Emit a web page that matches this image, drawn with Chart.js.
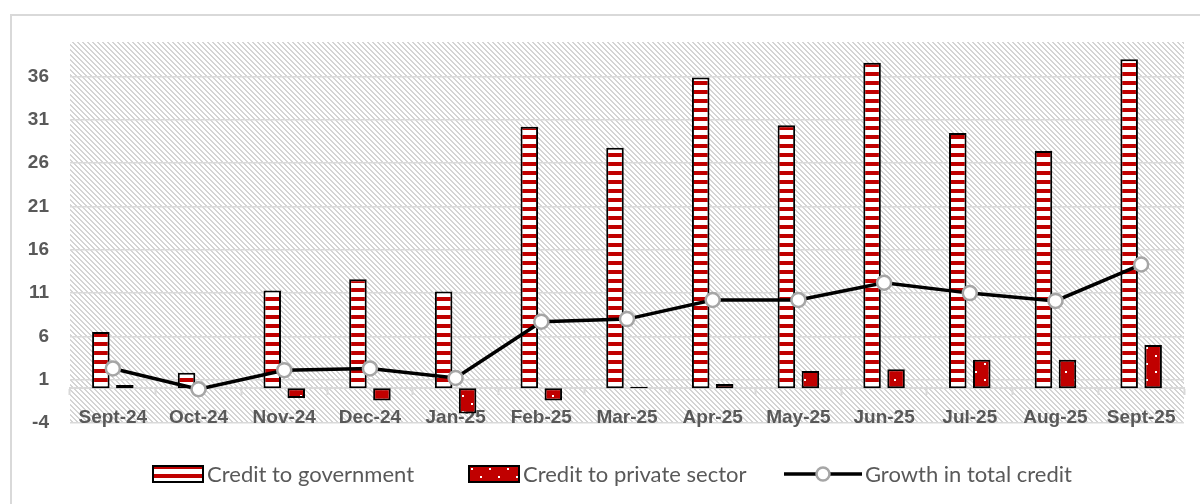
<!DOCTYPE html>
<html>
<head>
<meta charset="utf-8">
<script src="https://cdn.jsdelivr.net/npm/chart.js@4.4.1/dist/chart.umd.min.js"></script>
<style>
  html, body { margin: 0; padding: 0; background: #fff; overflow: hidden; }
  .frame { position: absolute; left: 10px; top: 14px; width: 1300px; height: 600px; border: 2px solid #d9d9d9; }
  #creditChart { position: absolute; left: 0; top: 0; }
</style>
</head>
<body>
<div class="frame"></div>
<canvas id="creditChart" width="1200" height="504"></canvas>
<script>
const MONTHS = ['Sept-24', 'Oct-24', 'Nov-24', 'Dec-24', 'Jan-25', 'Feb-25', 'Mar-25',
  'Apr-25', 'May-25', 'Jun-25', 'Jul-25', 'Aug-25', 'Sept-25'];
const GOV_CREDIT = [6.5, 1.8, 11.3, 12.6, 11.2, 30.2, 27.8, 35.9, 30.4, 37.6, 29.5, 27.4, 38.0];
const PRIVATE_CREDIT = [0.4, 0, -1.1, -1.4, -2.9, -1.4, 0.2, 0.5, 2.0, 2.2, 3.3, 3.3, 5.0];
const TOTAL_GROWTH = [2.3, -0.1, 2.1, 2.3, 1.2, 7.7, 8.0, 10.2, 10.2, 12.2, 11.0, 10.1, 14.3];
const Y_TICKS = [-4, 1, 6, 11, 16, 21, 26, 31, 36];
const SERIES_NAMES = ['Credit to government', 'Credit to private sector', 'Growth in total credit'];

const RED = '#C00000';
const GRID = '#d9d9d9';
const TEXT = '#595959';
const AXIS_FONT = { family: '"Liberation Sans", Arial, sans-serif', size: 19, weight: 'bold' };
const LEGEND_FONT = '22px Lato, "Open Sans", sans-serif';
const LEGEND_CENTER = 612;
const LEGEND_Y = 474;
const LEGEND_GAP = 28;

const canvas = document.getElementById('creditChart');
const ctx = canvas.getContext('2d');

/* ---- Fill patterns ---- */
function makeTile(w, h, paint) {
  const c = document.createElement('canvas');
  c.width = w;
  c.height = h;
  paint(c.getContext('2d'), w, h);
  return c;
}

// light downward diagonal hatch behind the plot
const hatchTile = makeTile(5, 5, (g) => {
  g.fillStyle = '#fff';
  g.fillRect(0, 0, 5, 5);
  g.fillStyle = '#d4d4d4';
  for (let y = 0; y < 5; y++) {
    for (let x = 0; x < 5; x++) {
      if ((x - y + 10) % 5 < 2) g.fillRect(x, y, 1, 1);
    }
  }
});

// red / white horizontal stripes
const stripeTile = makeTile(9, 9, (g) => {
  g.fillStyle = '#fff';
  g.fillRect(0, 0, 9, 9);
  g.fillStyle = RED;
  g.fillRect(0, 0, 9, 4);
});

// solid red with sparse white dots
const dotTile = makeTile(18, 16, (g) => {
  g.fillStyle = RED;
  g.fillRect(0, 0, 18, 16);
  g.fillStyle = '#fff';
  g.fillRect(3, 3, 2, 2);
  g.fillRect(12, 11, 2, 2);
});

const hatch = ctx.createPattern(hatchTile, 'repeat');
const stripes = ctx.createPattern(stripeTile, 'repeat');
const dots = ctx.createPattern(dotTile, 'repeat');

/* ---- Legend icons ---- */
function barIcon(tile) {
  return makeTile(52, 18, (g) => {
    g.fillStyle = g.createPattern(tile, 'repeat');
    g.fillRect(1, 1, 50, 16);
    g.strokeStyle = '#000';
    g.lineWidth = 2;
    g.strokeRect(1, 1, 50, 16);
  });
}

const lineIcon = makeTile(78, 18, (g) => {
  g.strokeStyle = '#000';
  g.lineWidth = 3.5;
  g.beginPath();
  g.moveTo(0, 9);
  g.lineTo(78, 9);
  g.stroke();
  g.beginPath();
  g.arc(39, 9, 6.5, 0, Math.PI * 2);
  g.fillStyle = '#fff';
  g.fill();
  g.strokeStyle = '#a6a6a6';
  g.lineWidth = 2.5;
  g.stroke();
});

const LEGEND_ICONS = [barIcon(stripeTile), barIcon(dotTile), lineIcon];

/* ---- Plot area background ---- */
const plotBackground = {
  id: 'plotBackground',
  beforeDraw(chart) {
    const { ctx: c, chartArea: a } = chart;
    c.save();
    c.fillStyle = hatch;
    c.fillRect(a.left, a.top, a.right - a.left, a.bottom - a.top);
    c.restore();
  },
};

/* ---- Legend: one row, equal-width slots ---- */
const slotLegend = {
  id: 'slotLegend',
  afterDraw(chart) {
    const c = chart.ctx;
    c.save();
    c.font = LEGEND_FONT;
    c.fillStyle = TEXT;
    c.textBaseline = 'middle';
    const items = SERIES_NAMES.map((text, i) => {
      const icon = LEGEND_ICONS[i];
      return { text, icon, width: icon.width + 3 + c.measureText(text).width };
    });
    const slot = Math.max(...items.map((it) => it.width)) + LEGEND_GAP;
    const total = slot * (items.length - 1) + items[items.length - 1].width;
    let x = LEGEND_CENTER - total / 2;
    items.forEach((it) => {
      c.drawImage(it.icon, Math.round(x), Math.round(LEGEND_Y - it.icon.height / 2));
      c.fillText(it.text, x + it.icon.width + 3, LEGEND_Y + 1);
      x += slot;
    });
    c.restore();
  },
};

new Chart(ctx, {
  type: 'bar',
  data: {
    labels: MONTHS,
    datasets: [
      {
        type: 'line',
        label: SERIES_NAMES[2],
        data: TOTAL_GROWTH,
        order: 0,
        borderColor: '#000',
        borderWidth: 3.5,
        tension: 0,
        pointRadius: 7,
        pointBorderWidth: 2.5,
        pointBorderColor: '#a6a6a6',
        pointBackgroundColor: '#fff',
      },
      {
        label: SERIES_NAMES[0],
        data: GOV_CREDIT,
        order: 1,
        backgroundColor: stripes,
        borderColor: '#000',
        borderWidth: 2,
        borderSkipped: false,
        categoryPercentage: 0.56,
        barPercentage: 0.73,
      },
      {
        label: SERIES_NAMES[1],
        data: PRIVATE_CREDIT,
        order: 2,
        backgroundColor: dots,
        borderColor: '#000',
        borderWidth: 2,
        borderSkipped: false,
        categoryPercentage: 0.56,
        barPercentage: 0.73,
      },
    ],
  },
  options: {
    responsive: false,
    animation: false,
    layout: { padding: { top: 42, right: 16, bottom: 81, left: 0 } },
    plugins: {
      tooltip: { enabled: false },
      legend: { display: false },
    },
    scales: {
      x: {
        position: { y: 0 },
        offset: true,
        grid: {
          offset: true,
          drawOnChartArea: false,
          drawTicks: true,
          tickLength: 6,
          tickColor: GRID,
          tickWidth: 2,
        },
        border: { color: GRID, width: 2 },
        ticks: { color: TEXT, font: AXIS_FONT, padding: 12, maxRotation: 0, autoSkip: false },
      },
      y: {
        min: -4,
        max: 40,
        afterBuildTicks: (s) => { s.ticks = Y_TICKS.map((v) => ({ value: v })); },
        grid: { color: GRID, lineWidth: 1.5, drawTicks: false },
        border: { display: false },
        ticks: { color: TEXT, font: AXIS_FONT, padding: 21 },
        afterFit: (s) => { s.width = 70; },
      },
    },
  },
  plugins: [plotBackground, slotLegend],
});
</script>
</body>
</html>
